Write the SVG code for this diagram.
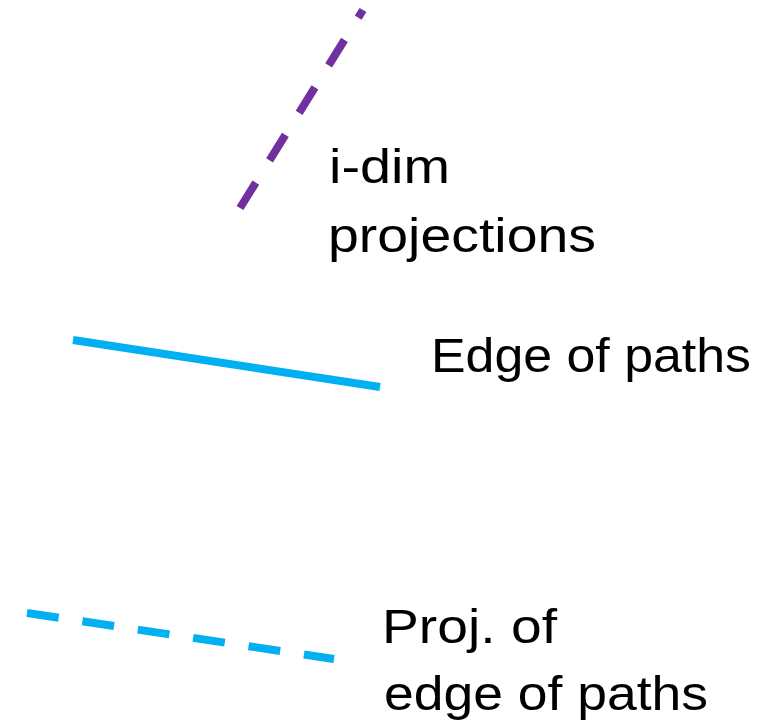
<svg xmlns="http://www.w3.org/2000/svg" width="779" height="726" viewBox="0 0 779 726">
  <style>
    .lbl { font-family: "Liberation Sans", Arial, sans-serif; font-size: 49px; fill: #000000; }
    .ln { fill: none; stroke-width: 8; stroke-linecap: butt; }
    .purple { stroke: #7030A0; stroke-dasharray: 30 26; }
    .blue { stroke: #00B0F0; }
    .bluedash { stroke: #00B0F0; stroke-dasharray: 32 24; }
  </style>
  <rect width="779" height="726" fill="#ffffff"/>
  <g id="connectors">
    <path id="idim-line" class="ln purple" d="M240,208 L363,10"/>
    <path id="edge-line" class="ln blue" d="M73,340 L380,387"/>
    <path id="proj-edge-line" class="ln bluedash" d="M27,613 L334,659"/>
  </g>
  <g id="label-idim">
    <text class="lbl" x="329" y="183" textLength="121" lengthAdjust="spacingAndGlyphs">i-dim</text>
    <text class="lbl" x="328" y="252" textLength="268" lengthAdjust="spacingAndGlyphs">projections</text>
  </g>
  <g id="label-edge">
    <text class="lbl" x="431" y="372" textLength="320" lengthAdjust="spacingAndGlyphs">Edge of paths</text>
  </g>
  <g id="label-proj-edge">
    <text class="lbl" x="382" y="643" textLength="175" lengthAdjust="spacingAndGlyphs">Proj. of</text>
    <text class="lbl" x="384" y="710" textLength="324" lengthAdjust="spacingAndGlyphs">edge of paths</text>
  </g>
</svg>
